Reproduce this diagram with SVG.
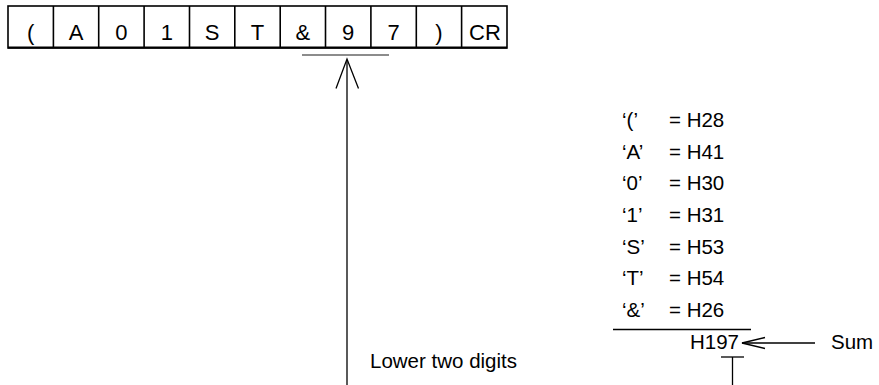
<svg xmlns="http://www.w3.org/2000/svg" width="879" height="385" viewBox="0 0 879 385">
<style>
  text { font-family: "Liberation Sans", Arial, sans-serif; fill: #000; }
  .cell { font-size: 22px; text-anchor: middle; }
  .lbl { font-size: 20.5px; }
  .ln { stroke: #000; stroke-width: 1.3; fill: none; }
</style>
<rect width="879" height="385" fill="#fff"/>
<g id="frame">
  <rect x="8" y="6" width="499" height="42" fill="#fff" stroke="#000" stroke-width="1.6"/>
  <line x1="8" y1="47.5" x2="507" y2="47.5" stroke="#000" stroke-width="2"/>
  <g stroke="#000" stroke-width="1.6">
    <line x1="53.4" y1="6" x2="53.4" y2="48"/>
    <line x1="98.7" y1="6" x2="98.7" y2="48"/>
    <line x1="144.1" y1="6" x2="144.1" y2="48"/>
    <line x1="189.5" y1="6" x2="189.5" y2="48"/>
    <line x1="234.8" y1="6" x2="234.8" y2="48"/>
    <line x1="280.2" y1="6" x2="280.2" y2="48"/>
    <line x1="325.5" y1="6" x2="325.5" y2="48"/>
    <line x1="370.9" y1="6" x2="370.9" y2="48"/>
    <line x1="416.3" y1="6" x2="416.3" y2="48"/>
    <line x1="461.6" y1="6" x2="461.6" y2="48"/>
  </g>
</g>
<g id="cells">
  <text class="cell" x="30.7" y="39.5">(</text>
  <text class="cell" x="76" y="39.5">A</text>
  <text class="cell" x="121.4" y="39.5">0</text>
  <text class="cell" x="166.8" y="39.5">1</text>
  <text class="cell" x="212.2" y="39.5">S</text>
  <text class="cell" x="257.5" y="39.5">T</text>
  <text class="cell" x="302.9" y="39.5">&amp;</text>
  <text class="cell" x="348.2" y="39.5">9</text>
  <text class="cell" x="393.6" y="39.5">7</text>
  <text class="cell" x="439" y="39.5">)</text>
  <text class="cell" x="485" y="39.5">CR</text>
</g>
<g id="table">
  <text class="lbl" x="622" y="127">‘(’</text><text class="lbl" x="669" y="127">= H28</text>
  <text class="lbl" x="622" y="158.7">‘A’</text><text class="lbl" x="669" y="158.7">= H41</text>
  <text class="lbl" x="622" y="190.3">‘0’</text><text class="lbl" x="669" y="190.3">= H30</text>
  <text class="lbl" x="622" y="222">‘1’</text><text class="lbl" x="669" y="222">= H31</text>
  <text class="lbl" x="622" y="253.7">‘S’</text><text class="lbl" x="669" y="253.7">= H53</text>
  <text class="lbl" x="622" y="285.3">‘T’</text><text class="lbl" x="669" y="285.3">= H54</text>
  <text class="lbl" x="622" y="317">‘&amp;’</text><text class="lbl" x="669" y="317">= H26</text>
  <text class="lbl" x="690" y="349">H197</text>
  <text class="lbl" x="831" y="349">Sum</text>
  <text class="lbl" x="370" y="368">Lower two digits</text>
</g>
<g id="connectors">
  <line x1="302" y1="55" x2="389" y2="55" stroke="#666" stroke-width="1.5"/>
  <line class="ln" x1="347" y1="60" x2="347" y2="385"/>
  <polyline class="ln" points="336,88.5 347,59 358.5,88.5"/>
  <line class="ln" x1="613" y1="329.5" x2="751" y2="329.5"/>
  <line class="ln" x1="742" y1="343" x2="815" y2="343"/>
  <polyline class="ln" points="765,337.5 742,343 765,348.5"/>
  <line class="ln" x1="721" y1="357" x2="744" y2="357"/>
  <line class="ln" x1="732.5" y1="357" x2="732.5" y2="385"/>
</g>
</svg>
